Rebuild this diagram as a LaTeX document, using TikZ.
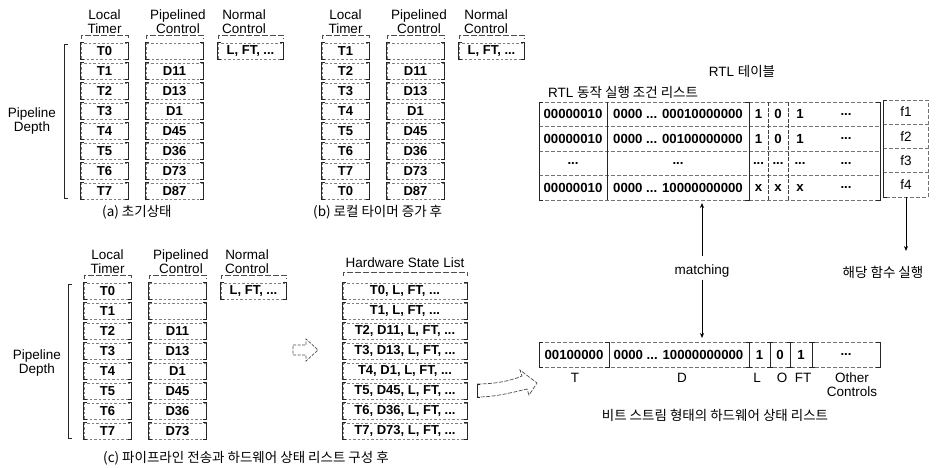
\documentclass[tikz,border=0pt]{standalone}
\usepackage{fontspec}
\setmainfont{Liberation Sans}
\newfontfamily\krfont{Noto Sans CJK KR}
\usetikzlibrary{arrows.meta}
\newcommand\tdots{...}
\tikzset{
  hdr/.style={inner sep=0pt, font=\fontsize{13.5}{14}\selectfont, align=center},
  ent/.style={inner sep=0pt, font=\bfseries\fontsize{13}{14}\selectfont},
  tbl/.style={inner sep=0pt, font=\bfseries\fontsize{13.2}{14}\selectfont},
  kr/.style={inner sep=0pt, font=\krfont\fontsize{13.5}{15}\selectfont},
  dbox/.style={draw=black!50, dash pattern=on 2.5pt off 2pt, line width=0.5pt},
  brk/.style={draw=black!85, line width=0.7pt},
  hb/.style={draw=black!70, dash pattern=on 6pt off 2pt, line width=0.6pt},
  hl/.style={draw=black!55, dash pattern=on 4pt off 2pt, line width=0.6pt},
  vl/.style={draw=black!85, line width=0.7pt},
  vd/.style={draw=black!75, dash pattern=on 4pt off 1.5pt, line width=0.6pt},
  arr/.style={draw=black, line width=0.8pt, -{Stealth[length=5pt,width=4pt]}},
}
\newcommand\mkcell[6]{%
  \node[ent, minimum width=#4, minimum height=#5] (#1) at (#2,{#3}) {#6};
  \draw[dbox] (#1.north west) rectangle (#1.south east);
  \draw[brk] ([xshift=3pt]#1.north west) -- (#1.north west) -- (#1.south west) -- ([xshift=3pt]#1.south west);
  \draw[brk] ([xshift=-3pt]#1.north east) -- (#1.north east) -- (#1.south east) -- ([xshift=-3pt]#1.south east);
}
\newcommand\tcell[5]{%
  \node[tbl, minimum width=#4, minimum height=24.5] (#1) at (#2,#3) {#5};
}
\begin{document}
\begin{tikzpicture}[x=1pt,y=-1pt]
\useasboundingbox (0,0) rectangle (937,467);

% ================= panel (a)
\node[hdr] (aH1) at (104.5,22) {Local\\Timer};
\node[hdr] (aH2) at (178,22) {Pipelined\\Control};
\node[hdr] (aH3) at (244,22) {Normal\\Control};
\draw[hb] (81,39) -- (81,35) -- (128,35) -- (128,39);
\draw[hb] (146,39) -- (146,35) -- (203,35) -- (203,39);
\draw[hb] (218,39) -- (218,35) -- (283,35) -- (283,39);
\foreach \t [count=\i from 0] in {T0,T1,T2,T3,T4,T5,T6,T7}
  {\mkcell{aT\i}{104.5}{51+20*\i}{47}{16}{\t}}
\mkcell{aP0}{174.5}{51}{57}{16}{}
\foreach \t [count=\i from 1] in {D11,D13,D1,D45,D36,D73,D87}
  {\mkcell{aP\i}{174.5}{51+20*\i}{57}{16}{\t}}
\mkcell{aN0}{250.5}{51}{65}{16}{L, FT, \tdots}
\node[hdr] (aPD) at (32,121) {Pipeline\\Depth};
\draw[brk] (68,44) -- (64,44) -- (64,198) -- (68,198);
\node[kr, anchor=west] (aCap) at (102,212) {(a) 초기상태};

% ================= panel (b)
\node[hdr] (bH1) at (345.5,22) {Local\\Timer};
\node[hdr] (bH2) at (419,22) {Pipelined\\Control};
\node[hdr] (bH3) at (486,22) {Normal\\Control};
\draw[hb] (322,39) -- (322,35) -- (369,35) -- (369,39);
\draw[hb] (387,39) -- (387,35) -- (444,35) -- (444,39);
\draw[hb] (459,39) -- (459,35) -- (524,35) -- (524,39);
\foreach \t [count=\i from 0] in {T1,T2,T3,T4,T5,T6,T7,T0}
  {\mkcell{bT\i}{345.5}{51+20*\i}{47}{16}{\t}}
\mkcell{bP0}{415.5}{51}{57}{16}{}
\foreach \t [count=\i from 1] in {D11,D13,D1,D45,D36,D73,D87}
  {\mkcell{bP\i}{415.5}{51+20*\i}{57}{16}{\t}}
\mkcell{bN0}{491.5}{51}{65}{16}{L, FT, \tdots}
\node[kr, anchor=west] (bCap) at (313,212) {(b) 로컬 타이머 증가 후};

% ================= panel (c)
\node[hdr] (cH1) at (107.5,262) {Local\\Timer};
\node[hdr] (cH2) at (181,262) {Pipelined\\Control};
\node[hdr] (cH3) at (247,262) {Normal\\Control};
\draw[hb] (84,279) -- (84,275) -- (131,275) -- (131,279);
\draw[hb] (149,279) -- (149,275) -- (206,275) -- (206,279);
\draw[hb] (221,279) -- (221,275) -- (286,275) -- (286,279);
\foreach \t [count=\i from 0] in {T0,T1,T2,T3,T4,T5,T6,T7}
  {\mkcell{cT\i}{107.5}{291+20*\i}{47}{16}{\t}}
\mkcell{cP0}{177.5}{291}{57}{16}{}
\mkcell{cP1}{177.5}{311}{57}{16}{}
\foreach \t [count=\i from 2] in {D11,D13,D1,D45,D36,D73}
  {\mkcell{cP\i}{177.5}{291+20*\i}{57}{16}{\t}}
\mkcell{cN0}{253.5}{291}{65}{16}{L, FT, \tdots}
\node[hdr] (cPD) at (37,363) {Pipeline\\Depth};
\draw[brk] (72,284) -- (68,284) -- (68,438) -- (72,438);
\node[kr, anchor=west] (cCap) at (103,458) {(c) 파이프라인 전송과 하드웨어 상태 리스트 구성 후};

% hollow arrow
\draw[vl, draw=black!70, dash pattern=on 3pt off 1.5pt] (293,345) -- (306,345) -- (306,339) -- (318,350) -- (306,361) -- (306,355) -- (293,355) -- cycle;

% hardware state list
\node[hdr] (hTitle) at (405,263) {Hardware State List};
\draw[hb] (343,276) -- (343,272) -- (467,272) -- (467,276);
\foreach \t [count=\i from 0] in {{T0, L, FT, \tdots},{T1, L, FT, \tdots},{T2, D11, L, FT, \tdots},{T3, D13, L, FT, \tdots},{T4, D1, L, FT, \tdots},{T5, D45, L, FT, \tdots},{T6, D36, L, FT, \tdots},{T7, D73, L, FT, \tdots}}
  {\mkcell{h\i}{405}{291+20*\i}{124}{16}{\t}}

% curved hollow arrow
\draw[vl, draw=black!70, dash pattern=on 4pt off 1.5pt] (477,384) .. controls (495,384) and (510,381) .. (522,376) -- (520,370) -- (537,383) -- (529,395) -- (527,389) .. controls (510,393) and (495,397) .. (477,397);
\draw[brk] (480,384) -- (477,384) -- (477,397) -- (480,397);

% ================= RTL table
\node[hdr] (rtlT) at (742,71) {RTL {\krfont 테이블}};
\node[hdr, anchor=west] (rtlL) at (548,92) {RTL {\krfont 동작 실행 조건 리스트}};
\foreach \yy in {102,126.5,151,175.5,200} \draw[hl] (539,\yy) -- (880,\yy);
\draw[brk] (543,102) -- (539,102) -- (539,200) -- (543,200);
\draw[vl] (607,102) -- (607,200);
\draw[brk] (745,102) -- (749,102) -- (749,200) -- (745,200);
\draw[vd] (768,102) -- (768,200);
\draw[vd] (788,102) -- (788,200);
\draw[brk] (876,102) -- (880,102) -- (880,200) -- (876,200);
% row 1
\tcell{r1a}{573}{114.25}{68}{00000010}
\tcell{r1b}{678}{114.25}{142}{0000 \tdots{} 00010000000}
\tcell{r1c}{758.5}{114.25}{19}{1}
\tcell{r1d}{778}{114.25}{20}{0}
\tcell{r1e}{800}{114.25}{20}{1}
\tcell{r1f}{846}{114.25}{60}{\tdots}
% row 2
\tcell{r2a}{573}{138.75}{68}{00000010}
\tcell{r2b}{678}{138.75}{142}{0000 \tdots{} 00100000000}
\tcell{r2c}{758.5}{138.75}{19}{1}
\tcell{r2d}{778}{138.75}{20}{0}
\tcell{r2e}{800}{138.75}{20}{1}
\tcell{r2f}{846}{138.75}{60}{\tdots}
% row 3
\tcell{r3a}{573}{163.25}{68}{\tdots}
\tcell{r3b}{678}{163.25}{142}{\tdots}
\tcell{r3c}{758.5}{163.25}{19}{\tdots}
\tcell{r3d}{778}{163.25}{20}{\tdots}
\tcell{r3e}{800}{163.25}{20}{\tdots}
\tcell{r3f}{846}{163.25}{60}{\tdots}
% row 4
\tcell{r4a}{573}{187.75}{68}{00000010}
\tcell{r4b}{678}{187.75}{142}{0000 \tdots{} 10000000000}
\tcell{r4c}{758.5}{187.75}{19}{x}
\tcell{r4d}{778}{187.75}{20}{x}
\tcell{r4e}{800}{187.75}{20}{x}
\tcell{r4f}{846}{187.75}{60}{\tdots}

% f column
\draw[hl] (883,100) -- (928,100) -- (928,197) -- (883,197);
\foreach \yy in {124.25,148.5,172.75} \draw[hl] (883,\yy) -- (928,\yy);
\draw[brk] (887,100) -- (883,100) -- (883,197) -- (887,197);
\foreach \i in {1,2,3,4}
  \node[hdr, minimum width=45, minimum height=24.25] (f\i) at (906,{112.1+24.25*(\i-1)}) {f\i};
\node[kr] (fexec) at (883,272) {해당 함수 실행};
\coordinate (fend) at (906,251);
\draw[arr] (f4) -- (fend);

% matching
\node[hdr] (match) at (702,271) {matching};
\coordinate (mUp) at (702,203);
\coordinate (mDn) at (702,338);
\draw[arr, shorten <=9pt] (match) -- (mUp);
\draw[arr, shorten <=2pt] (match) -- (mDn);

% ================= bit stream
\draw[hl] (539,342) -- (880,342);
\draw[hl] (539,367) -- (880,367);
\draw[brk] (543,342) -- (539,342) -- (539,367) -- (543,367);
\draw[brk] (605,342) -- (609,342) -- (609,367) -- (605,367);
\foreach \xx in {749,770,790,812}
  \draw[brk] (\xx-3,342) -- (\xx+3,342) (\xx,342) -- (\xx,367) (\xx-3,367) -- (\xx+3,367);
\draw[brk] (876,342) -- (880,342) -- (880,367) -- (876,367);
\tcell{s1}{574}{354.5}{70}{00100000}
\tcell{s2}{678.5}{354.5}{139}{0000 \tdots{} 10000000000}
\tcell{s3}{759.5}{354.5}{21}{1}
\tcell{s4}{780}{354.5}{20}{0}
\tcell{s5}{801}{354.5}{22}{1}
\tcell{s6}{846}{354.5}{68}{\tdots}
\node[hdr] (lT) at (575,378) {T};
\node[hdr] (lD) at (682,378) {D};
\node[hdr] (lL) at (757,378) {L};
\node[hdr] (lO) at (782,378) {O};
\node[hdr] (lFT) at (803,378) {FT};
\node[hdr] (lOther) at (852,385) {Other\\Controls};
\node[kr] (sCap) at (715,415) {비트 스트림 형태의 하드웨어 상태 리스트};
\end{tikzpicture}
\end{document}
